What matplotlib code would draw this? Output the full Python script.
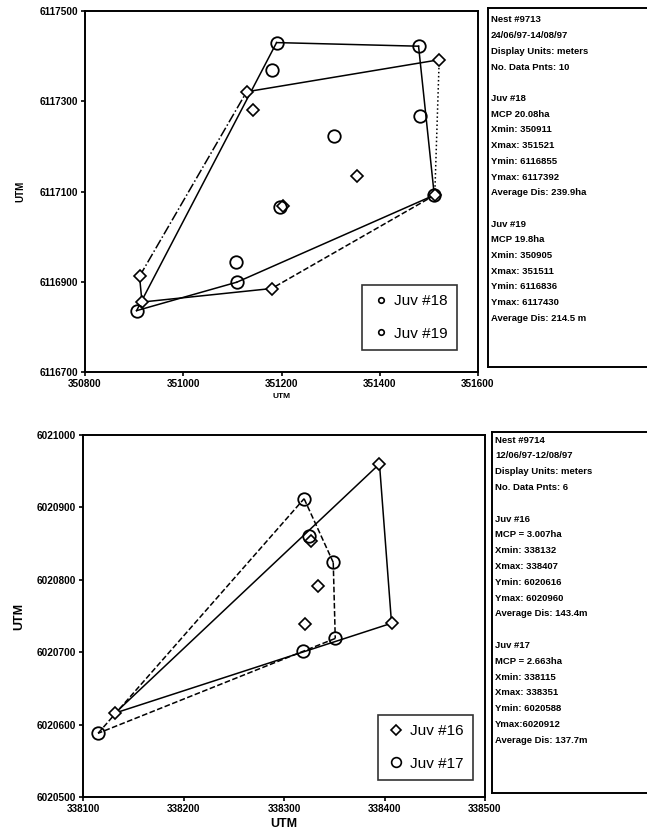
import matplotlib
matplotlib.use('Agg')
import matplotlib.pyplot as plt
import numpy as np
from matplotlib.lines import Line2D
from matplotlib.ticker import FuncFormatter

# --- Nido 9713 (arriba) ---
juv18_x = [350911, 350916, 351129, 351141, 351180, 351204, 351353, 351512, 351521]
juv18_y = [6116912, 6116855, 6117321, 6117280, 6116885, 6117068, 6117134, 6117092, 6117392]
juv19_x = [350905, 351107, 351109, 351190, 351180, 351197, 351306, 351479, 351481, 351511]
juv19_y = [6116836, 6116943, 6116899, 6117430, 6117370, 6117066, 6117223, 6117422, 6117267, 6117092]
hull18 = [0, 2, 8, 7, 4, 1, 0]
hull18_styles = ['-.', '-', ':', '--', '-', '-']
hull19 = [0, 3, 7, 9, 2, 0]

# --- Nido 9714 (abajo) ---
juv16_x = [338132, 338327, 338334, 338321, 338395, 338407]
juv16_y = [6020616, 6020854, 6020792, 6020739, 6020960, 6020740]
juv17_x = [338115, 338320, 338325, 338349, 338351, 338319]
juv17_y = [6020588, 6020912, 6020860, 6020824, 6020719, 6020701]
hull16 = [0, 4, 5, 0]
hull17 = [0, 1, 3, 4, 0]

info_top = ["Nest #9713", "24/06/97-14/08/97", "Display Units: meters", "No. Data Pnts: 10", "",
            "Juv #18", "MCP 20.08ha", "Xmin: 350911", "Xmax: 351521", "Ymin: 6116855",
            "Ymax: 6117392", "Average Dis: 239.9ha", "",
            "Juv #19", "MCP 19.8ha", "Xmin: 350905", "Xmax: 351511", "Ymin: 6116836",
            "Ymax: 6117430", "Average Dis: 214.5 m"]
info_bot = ["Nest #9714", "12/06/97-12/08/97", "Display Units: meters", "No. Data Pnts: 6", "",
            "Juv #16", "MCP = 3.007ha", "Xmin: 338132", "Xmax: 338407", "Ymin: 6020616",
            "Ymax: 6020960", "Average Dis: 143.4m", "",
            "Juv #17", "MCP = 2.663ha", "Xmin: 338115", "Xmax: 338351", "Ymin: 6020588",
            "Ymax:6020912", "Average Dis: 137.7m"]

plt.rcParams['font.family'] = ['Liberation Sans Narrow', 'Liberation Sans', 'DejaVu Sans']

W, H = 647, 838
fig = plt.figure(figsize=(W / 100, H / 100), dpi=100)

def px_axes(x0, y0, x1, y1):
    return fig.add_axes([x0 / W, 1 - y1 / H, (x1 - x0) / W, (y1 - y0) / H])

fmt = FuncFormatter(lambda v, p: '%d' % v)

def style_axes(ax, lab_size):
    for s in ax.spines.values():
        s.set_linewidth(1.4)
    ax.tick_params(direction='out', length=3, width=1.2, labelsize=lab_size, pad=2,
                   labelfontfamily='Liberation Sans')
    ax.xaxis.set_major_formatter(fmt)
    ax.yaxis.set_major_formatter(fmt)
    plt.setp(ax.get_xticklabels() + ax.get_yticklabels(), fontweight='bold')

def hull_plot(ax, xs, ys, order, styles):
    for i in range(len(order) - 1):
        a, b = order[i], order[i + 1]
        ax.plot([xs[a], xs[b]], [ys[a], ys[b]], color='black', lw=1.1, ls=styles[i], zorder=2)

def info_box(x0, y0, x1, y1, lines, ty0, step):
    ax = px_axes(x0, y0, x1, y1)
    ax.set_xticks([]); ax.set_yticks([])
    for s in ax.spines.values():
        s.set_linewidth(1.4)
    for i, line in enumerate(lines):
        fig.text((x0 + 3) / W, 1 - (ty0 + i * step) / H, line, fontsize=6.8, fontweight='bold',
                 va='center', ha='left')

# ---------- grafico superior ----------
ax1 = px_axes(85, 11, 478, 372)
hull_plot(ax1, juv19_x, juv19_y, hull19, ['-'] * (len(hull19) - 1))
hull_plot(ax1, juv18_x, juv18_y, hull18, hull18_styles)
ax1.plot(juv18_x, juv18_y, 'D', ms=6, mfc='white', mec='black', mew=1.2, zorder=3)
ax1.plot(juv19_x, juv19_y, 'o', ms=9, mfc='none', mec='black', mew=1.3, zorder=4)
ax1.set_xlim(350800, 351600)
ax1.set_ylim(6116700, 6117500)
ax1.set_xticks(np.arange(350800, 351601, 200))
ax1.set_yticks(np.arange(6116700, 6117501, 200))
style_axes(ax1, 7.2)
ax1.set_xlabel('UTM', fontsize=6, fontweight='bold', labelpad=3)
ax1.set_ylabel('UTM', fontsize=7, fontweight='bold', labelpad=10)
h1 = [Line2D([], [], ls='none', marker='o', ms=4, mfc='none', mec='black', mew=1.2),
      Line2D([], [], ls='none', marker='o', ms=4, mfc='none', mec='black', mew=1.2)]
leg1 = ax1.legend(h1, ['Juv #18', 'Juv #19'], loc='lower right', bbox_to_anchor=(0.947, 0.061),
                  borderaxespad=0, fancybox=False, edgecolor='black',
                  prop={'family': ['Liberation Sans'], 'size': 11},
                  labelspacing=1.2, handletextpad=0.3, handlelength=1.2, borderpad=0.6)
leg1.get_frame().set_linewidth(1.2)

info_box(488, 8, 652, 367, info_top, 20, 15.7)

# ---------- grafico inferior ----------
ax2 = px_axes(83, 435, 485, 797)
hull_plot(ax2, juv16_x, juv16_y, hull16, ['-'] * (len(hull16) - 1))
hull_plot(ax2, juv17_x, juv17_y, hull17, ['--'] * (len(hull17) - 1))
ax2.plot(juv16_x, juv16_y, 'D', ms=6, mfc='white', mec='black', mew=1.2, zorder=3)
ax2.plot(juv17_x, juv17_y, 'o', ms=9, mfc='none', mec='black', mew=1.3, zorder=4)
ax2.set_xlim(338100, 338500)
ax2.set_ylim(6020500, 6021000)
ax2.set_xticks(np.arange(338100, 338501, 100))
ax2.set_yticks(np.arange(6020500, 6021001, 100))
style_axes(ax2, 7.2)
ax2.set_xlabel('UTM', fontsize=9, fontweight='bold', labelpad=3)
ax2.set_ylabel('UTM', fontsize=9, fontweight='bold', labelpad=8)
h2 = [Line2D([], [], ls='none', marker='D', ms=5, mfc='none', mec='black', mew=1.2),
      Line2D([], [], ls='none', marker='o', ms=7, mfc='none', mec='black', mew=1.2)]
leg2 = ax2.legend(h2, ['Juv #16', 'Juv #17'], loc='lower right', bbox_to_anchor=(0.970, 0.047),
                  borderaxespad=0, fancybox=False, edgecolor='black',
                  prop={'family': ['Liberation Sans'], 'size': 11},
                  labelspacing=1.2, handletextpad=0.3, handlelength=1.2, borderpad=0.6)
leg2.get_frame().set_linewidth(1.2)

info_box(492, 432, 652, 793, info_bot, 440, 15.8)

fig.savefig('out.png', dpi=100)
